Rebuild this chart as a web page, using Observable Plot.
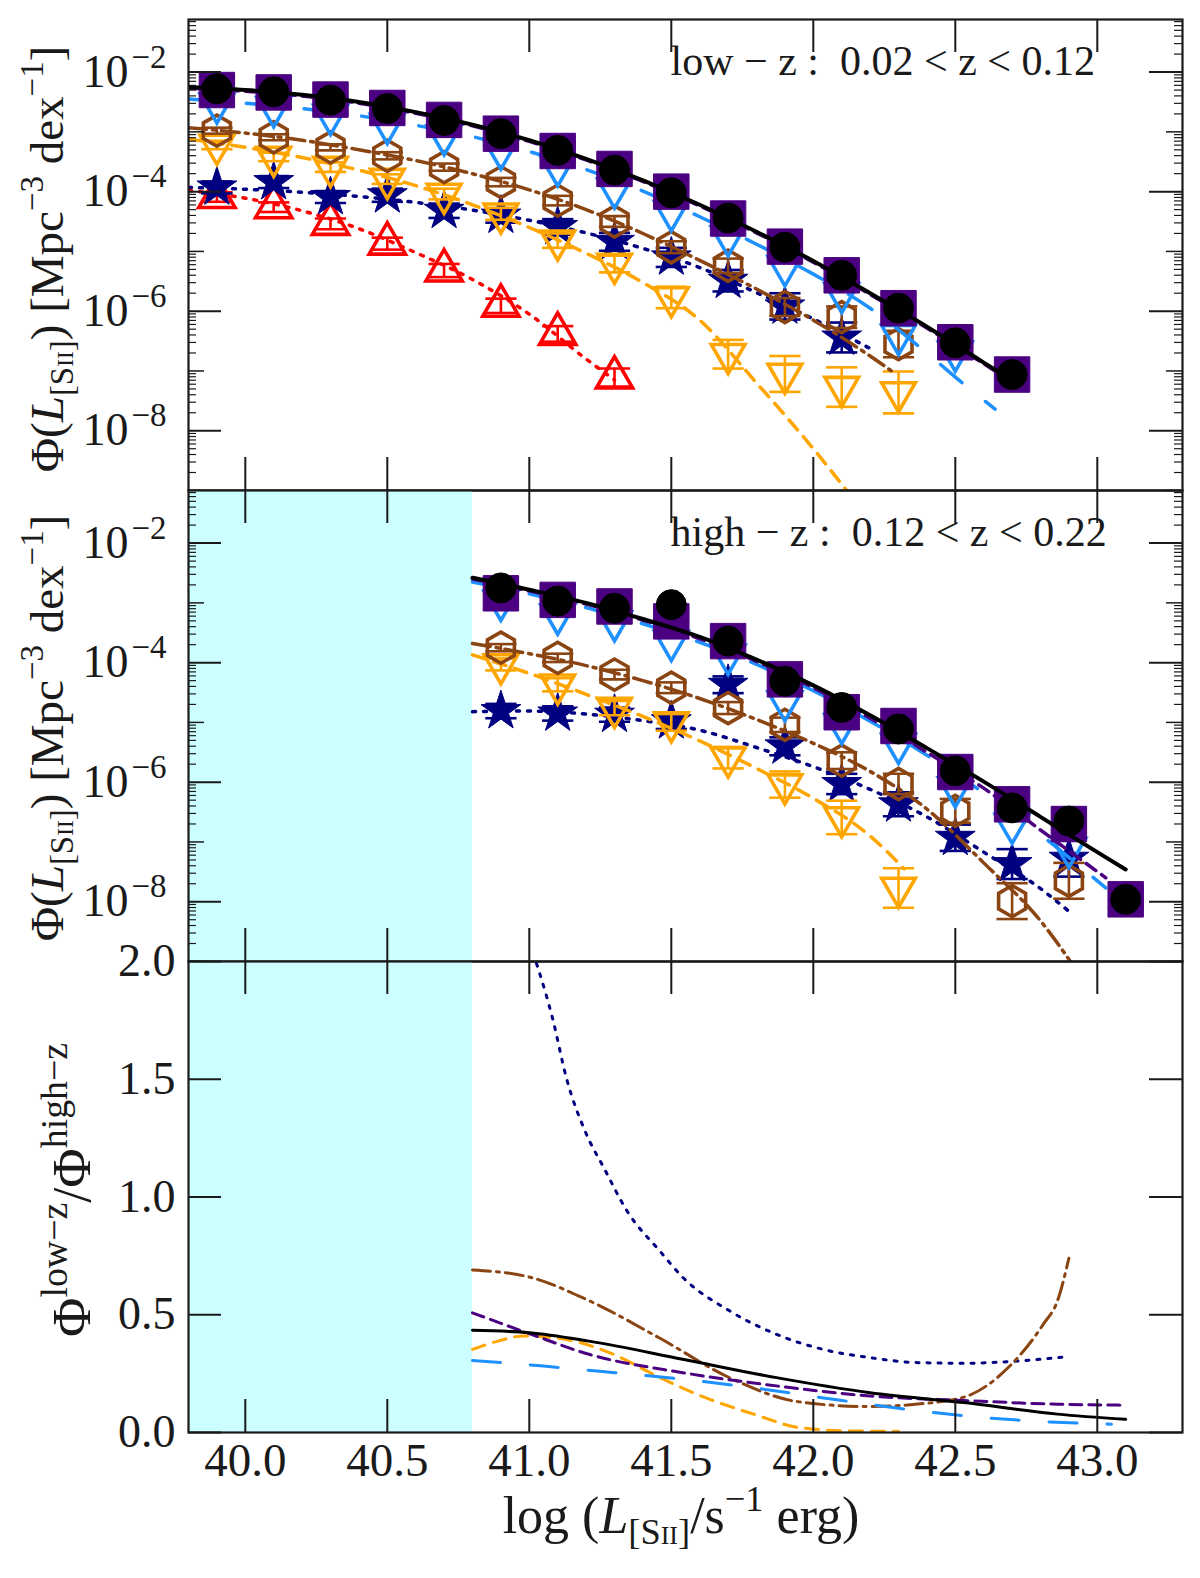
<!DOCTYPE html>
<html>
<head>
<meta charset="utf-8">
<script src="https://cdn.jsdelivr.net/npm/d3@7"></script>
<script src="https://cdn.jsdelivr.net/npm/@observablehq/plot@0.6"></script>
<style>
  body { margin: 0; background: white; }
  #chart svg { display: block; overflow: visible; }
</style>
</head>
<body>
<div id="chart"></div>
<script>
// axis settings
const xDomain = [39.8, 43.3];
const xTicks = [40.0, 40.5, 41.0, 41.5, 42.0, 42.5, 43.0];
const xTickLabels = ["40.0", "40.5", "41.0", "41.5", "42.0", "42.5", "43.0"];
const shadeEdge = 40.8;                 // completeness limit of the high-z sample
const phiDomain = [1e-9, 10 ** -1.12];
const phiTicks = [1e-2, 1e-4, 1e-6, 1e-8];
const phiTickExps = ["\u22122", "\u22124", "\u22126", "\u22128"];
const ratioTicks = [0, 0.5, 1, 1.5, 2];
const ratioTickLabels = ["0.0", "0.5", "1.0", "1.5", "2.0"];
const panelNotes = ["low \u2212 z :  0.02 < z < 0.12", "high \u2212 z :  0.12 < z < 0.22"];

// binned points (log10 Phi), low-z panel
const lowX      = [39.9, 40.1, 40.3, 40.5, 40.7, 40.9, 41.1, 41.3, 41.5, 41.7, 41.9, 42.1, 42.3, 42.5, 42.7];
const lowAll    = [-2.28, -2.33, -2.47, -2.61, -2.81, -3.03, -3.31, -3.64, -4.02, -4.44, -4.93, -5.40, -5.95, -6.53, -7.06];
const lowPurple = [-2.30, -2.34, -2.46, -2.60, -2.80, -3.03, -3.32, -3.62, -4.00, -4.45, -4.92, -5.40, -5.95, -6.52, -7.06];
const lowBlue   = [-2.53, -2.59, -2.72, -2.87, -3.06, -3.30, -3.58, -3.95, -4.33, -4.75, -5.25, -5.70, -6.40, -6.68, null];
const lowBrown  = [-2.98, -3.09, -3.26, -3.40, -3.59, -3.84, -4.15, -4.50, -4.93, -5.24, -5.93, -6.10, -6.55, null, null];
const lowOrange = [-3.22, -3.42, -3.59, -3.79, -4.04, -4.37, -4.82, -5.21, -5.77, -6.72, -7.05, -7.27, -7.36, null, null];
const lowNavy   = [-3.93, -3.84, -4.09, -4.06, -4.32, -4.40, -4.59, -4.84, -5.10, -5.49, -5.92, -6.44, null, null, null];
const lowRed    = [-4.09, -4.26, -4.54, -4.87, -5.32, -5.91, -6.38, -7.11, null, null, null, null, null, null, null];

// error half-lengths (dex), low-z panel
const lowBrownErr  = [0.05, 0.05, 0.05, 0.06, 0.06, 0.07, 0.08, 0.09, 0.10, 0.12, 0.15, 0.18, 0.22];
const lowOrangeErr = [0.07, 0.07, 0.08, 0.08, 0.09, 0.10, 0.12, 0.14, 0.18, 0.24, 0.30, 0.33, 0.35];
const lowNavyErr   = [0.10, 0.10, 0.10, 0.11, 0.12, 0.12, 0.13, 0.15, 0.16, 0.18, 0.22, 0.25];
const lowRedErr    = [0.08, 0.08, 0.09, 0.10, 0.11, 0.12, 0.13, 0.15];

// binned points (log10 Phi), high-z panel
const highX      = [40.9, 41.1, 41.3, 41.5, 41.7, 41.9, 42.1, 42.3, 42.5, 42.7, 42.9, 43.1];
const highAll    = [-2.75, -2.97, -3.09, -3.03, -3.64, -4.31, -4.75, -5.11, -5.81, -6.43, -6.65, -7.96];
const highPurple = [-2.84, -2.95, -3.06, -3.31, -3.64, -4.28, -4.83, -5.06, -5.83, -6.37, -6.70, -7.96];
const highBlue   = [-2.97, -3.20, -3.31, -3.64, -3.87, -4.65, -5.03, -5.36, -6.09, -6.70, -7.10, null];
const highBrown  = [-3.75, -3.92, -4.20, -4.42, -4.76, -5.04, -5.64, -6.03, -6.48, -7.99, -7.65, null];
const highOrange = [-4.03, -4.37, -4.76, -5.00, -5.59, -6.04, -6.59, -7.77, null, null, null, null];
const highNavy   = [-4.81, -4.85, -4.87, -4.98, -4.37, -5.40, -6.03, -6.37, -6.93, -7.37, -7.28, null];

// error half-lengths (dex), high-z panel
const highBrownErr  = [0.06, 0.07, 0.08, 0.09, 0.10, 0.12, 0.14, 0.17, 0.20, 0.30, 0.30];
const highOrangeErr = [0.10, 0.11, 0.12, 0.14, 0.18, 0.22, 0.28, 0.33];
const highNavyErr   = [0.12, 0.12, 0.12, 0.13, 0.14, 0.15, 0.17, 0.20, 0.22, 0.25, 0.30];

// fitted curves [log L, log10 Phi], low-z
const lowFitAll    = [[39.8,-2.25],[40.0,-2.30],[40.2,-2.38],[40.4,-2.50],[40.6,-2.67],[40.8,-2.88],[41.0,-3.14],[41.2,-3.45],[41.4,-3.81],[41.6,-4.22],[41.8,-4.67],[42.0,-5.16],[42.2,-5.70],[42.4,-6.26],[42.6,-6.86],[42.68,-7.1]];
const lowFitPurple = [[39.8,-2.27],[40.0,-2.32],[40.2,-2.40],[40.4,-2.52],[40.6,-2.69],[40.8,-2.90],[41.0,-3.16],[41.2,-3.47],[41.4,-3.83],[41.6,-4.24],[41.8,-4.69],[42.0,-5.18],[42.2,-5.72],[42.4,-6.28],[42.6,-6.88],[42.68,-7.12]];
const lowFitBlue   = [[39.8,-2.45],[40.0,-2.52],[40.2,-2.61],[40.4,-2.73],[40.6,-2.89],[40.8,-3.08],[41.0,-3.33],[41.2,-3.63],[41.4,-3.99],[41.6,-4.42],[41.8,-4.88],[42.0,-5.38],[42.2,-5.95],[42.4,-6.70],[42.53,-7.22],[42.64,-7.64]];
const lowFitBrown  = [[39.8,-2.93],[40.0,-3.02],[40.2,-3.14],[40.4,-3.30],[40.6,-3.48],[40.8,-3.70],[41.0,-3.97],[41.2,-4.30],[41.4,-4.70],[41.6,-5.15],[41.8,-5.63],[42.0,-6.15],[42.2,-6.75],[42.29,-7.05]];
const lowFitOrange = [[39.8,-3.12],[40.0,-3.26],[40.2,-3.43],[40.4,-3.64],[40.6,-3.90],[40.8,-4.22],[41.0,-4.60],[41.2,-5.03],[41.4,-5.52],[41.6,-6.15],[41.8,-7.20],[42.0,-8.30],[42.15,-9.20]];
const lowFitNavy   = [[39.8,-3.93],[40.0,-3.96],[40.2,-4.01],[40.4,-4.08],[40.6,-4.18],[40.8,-4.31],[41.0,-4.48],[41.2,-4.69],[41.4,-4.95],[41.6,-5.27],[41.8,-5.69],[42.0,-6.13],[42.21,-6.65]];
const lowFitRed    = [[39.8,-3.98],[40.0,-4.11],[40.2,-4.32],[40.4,-4.62],[40.6,-5.02],[40.8,-5.47],[41.0,-6.05],[41.2,-6.80],[41.3,-7.15]];

// fitted curves [log L, log10 Phi], high-z
const highFitAll    = [[40.8,-2.58],[41.0,-2.78],[41.2,-3.00],[41.4,-3.27],[41.6,-3.57],[41.8,-3.95],[42.0,-4.38],[42.2,-4.88],[42.4,-5.43],[42.6,-5.99],[42.8,-6.58],[43.0,-7.17],[43.1,-7.46]];
const highFitPurple = [[40.8,-2.60],[41.0,-2.80],[41.2,-3.02],[41.4,-3.29],[41.6,-3.60],[41.8,-3.98],[42.0,-4.42],[42.2,-4.93],[42.4,-5.50],[42.6,-6.10],[42.8,-6.80],[43.03,-7.60]];
const highFitBlue   = [[40.8,-2.65],[41.0,-2.85],[41.2,-3.08],[41.4,-3.35],[41.6,-3.66],[41.8,-4.03],[42.0,-4.47],[42.2,-4.98],[42.4,-5.55],[42.6,-6.18],[42.8,-6.88],[43.03,-7.77]];
const highFitBrown  = [[40.8,-3.68],[41.0,-3.85],[41.2,-4.05],[41.4,-4.30],[41.6,-4.60],[41.8,-4.95],[42.0,-5.35],[42.2,-5.82],[42.4,-6.45],[42.6,-7.35],[42.8,-8.32],[42.92,-9.10]];
const highFitOrange = [[40.8,-3.87],[41.0,-4.18],[41.2,-4.53],[41.4,-4.90],[41.6,-5.31],[41.8,-5.77],[42.0,-6.27],[42.2,-6.90],[42.32,-7.45]];
const highFitNavy   = [[40.8,-4.82],[41.0,-4.81],[41.2,-4.86],[41.4,-4.97],[41.6,-5.13],[41.8,-5.42],[42.0,-5.74],[42.2,-6.12],[42.4,-6.58],[42.6,-7.17],[42.8,-7.78],[42.9,-8.16]];

// ratio of the fits, Phi(low-z) / Phi(high-z)
const ratioAll    = [[40.8,0.434],[41.0,0.424],[41.21,0.388],[41.54,0.311],[41.87,0.233],[42.2,0.169],[42.53,0.127],[42.86,0.078],[43.1,0.056]];
const ratioPurple = [[40.8,0.508],[41.0,0.420],[41.21,0.332],[41.54,0.254],[41.87,0.198],[42.2,0.155],[42.53,0.136],[42.86,0.120],[43.1,0.116]];
const ratioBlue   = [[40.8,0.306],[41.05,0.282],[41.3,0.254],[41.54,0.226],[41.79,0.19],[42.03,0.148],[42.28,0.106],[42.53,0.071],[42.77,0.049],[43.05,0.035]];
const ratioBrown  = [[40.8,0.69],[41.0,0.66],[41.21,0.56],[41.46,0.40],[41.71,0.23],[41.95,0.13],[42.2,0.11],[42.36,0.12],[42.53,0.15],[42.69,0.28],[42.81,0.46],[42.86,0.56],[42.9,0.74]];
const ratioOrange = [[40.8,0.353],[40.89,0.388],[40.98,0.41],[41.13,0.395],[41.3,0.33],[41.46,0.233],[41.62,0.148],[41.79,0.078],[41.95,0.021],[42.12,0.007],[42.3,0.005]];
const ratioNavy   = [[41.0,2.08],[41.033,1.963],[41.082,1.758],[41.131,1.504],[41.197,1.278],[41.263,1.123],[41.345,0.939],[41.46,0.77],[41.542,0.657],[41.706,0.516],[41.87,0.417],[42.034,0.353],[42.199,0.318],[42.363,0.297],[42.527,0.294],[42.691,0.301],[42.888,0.321]];

// look of each sample (drawing order = bottom to top)
const FONT = "Liberation Serif, Times New Roman, serif";
const ink = "#1a1a1a";
const look = {
  red:    {color: "#ff0000", symbol: "triangle", r: 13.5, fill: "none", rot: 0,   dash: "3,8",      sw: 3.5},
  navy:   {color: "#000080", symbol: "star",     r: 12.5, fill: "solid", rot: 0,  dash: "3,8",      sw: 3.5},
  orange: {color: "#ffa500", symbol: "triangle", r: 12.5, fill: "none", rot: 180, dash: "13,9",     sw: 3.5},
  brown:  {color: "#8b4513", symbol: "hexagon",  r: 13.5, fill: "none", rot: 0,   dash: "18,6,3,6", sw: 3.5},
  blue:   {color: "#1e90ff", symbol: "triangle", r: 12.5, fill: "none", rot: 180, dash: "28,30",    sw: 3.5},
  purple: {color: "#4b0082", symbol: "square",   r: 20,   fill: "solid", rot: 0,  dash: "12,7",     sw: 3.5},
  all:    {color: "#000000", symbol: "circle",   r: 15,   fill: "solid", rot: 0,  dash: null,       sw: 4}
};
const order = ["red", "navy", "orange", "brown", "blue", "purple", "all"];

const lowPts   = {red: lowRed, navy: lowNavy, orange: lowOrange, brown: lowBrown, blue: lowBlue, purple: lowPurple, all: lowAll};
const highPts  = {navy: highNavy, orange: highOrange, brown: highBrown, blue: highBlue, purple: highPurple, all: highAll};
const lowErrs  = {red: lowRedErr, navy: lowNavyErr, orange: lowOrangeErr, brown: lowBrownErr};
const highErrs = {navy: highNavyErr, orange: highOrangeErr, brown: highBrownErr};
const lowFits  = {red: lowFitRed, navy: lowFitNavy, orange: lowFitOrange, brown: lowFitBrown, blue: lowFitBlue, purple: lowFitPurple, all: lowFitAll};
const highFits = {navy: highFitNavy, orange: highFitOrange, brown: highFitBrown, blue: highFitBlue, purple: highFitPurple, all: highFitAll};
const ratios   = {navy: ratioNavy, orange: ratioOrange, brown: ratioBrown, blue: ratioBlue, purple: ratioPurple, all: ratioAll};

// geometry
const W = 1200, ML = 188, MR = 18, FH = 471, FW = W - ML - MR;
const major = 33;
const capHalf = 0.055;

function tickMarks(yMajor, yMinorLong, yMinorShort) {
  const t = {stroke: ink, strokeWidth: 2};
  const m = [
    Plot.tickX(xTicks, {x: d => d, insetTop: FH - major, ...t}),
    Plot.tickX(xTicks, {x: d => d, insetBottom: FH - major, ...t}),
    Plot.tickY(yMajor, {y: d => d, insetRight: FW - major, ...t}),
    Plot.tickY(yMajor, {y: d => d, insetLeft: FW - major, ...t})
  ];
  if (yMinorLong) m.push(
    Plot.tickY(yMinorLong, {y: d => d, insetRight: FW - 16, stroke: ink, strokeWidth: 1.5}),
    Plot.tickY(yMinorLong, {y: d => d, insetLeft: FW - 16, stroke: ink, strokeWidth: 1.5}),
    Plot.tickY(yMinorShort, {y: d => d, insetRight: FW - 8, stroke: ink, strokeWidth: 1.2}),
    Plot.tickY(yMinorShort, {y: d => d, insetLeft: FW - 8, stroke: ink, strokeWidth: 1.2})
  );
  return m;
}

const inDomain = v => v >= phiDomain[0] && v <= phiDomain[1];
const minorLong = [1e-9, 1e-7, 1e-5, 1e-3].filter(inDomain);
const minorShort = d3.range(-9, -1).flatMap(e => d3.range(2, 10).map(k => k * 10 ** e)).filter(inDomain);

function seriesMarks(pts, xs, errs, fits) {
  const marks = [];
  for (const k of order) {
    const s = look[k];
    if (pts[k]) {
      const rows = xs.map((x, i) => ({x, v: pts[k][i], e: errs[k] ? errs[k][i] : null})).filter(d => d.v != null);
      const er = rows.filter(d => d.e != null);
      const lo = d => 10 ** (d.v - d.e), hi = d => 10 ** (d.v + d.e);
      const eo = {stroke: s.color, strokeWidth: 2.6};
      if (er.length) marks.push(
        Plot.link(er, {x1: "x", x2: "x", y1: lo, y2: hi, ...eo}),
        Plot.link(er, {x1: d => d.x - capHalf, x2: d => d.x + capHalf, y1: lo, y2: lo, ...eo}),
        Plot.link(er, {x1: d => d.x - capHalf, x2: d => d.x + capHalf, y1: hi, y2: hi, ...eo})
      );
      marks.push(Plot.dot(rows, {
        x: "x", y: d => 10 ** d.v, symbol: s.symbol, r: s.r, rotate: s.rot,
        fill: s.fill === "solid" ? s.color : "none", stroke: s.color,
        strokeWidth: s.fill === "solid" ? 1 : 3.6
      }));
    }
    if (fits[k]) {
      marks.push(Plot.line(fits[k], {
        x: d => d[0], y: d => 10 ** d[1], stroke: s.color, strokeWidth: s.sw,
        strokeDasharray: s.dash, curve: "monotone-x", clip: true
      }));
    }
  }
  return marks;
}

function phiLabels() {
  return [
    Plot.text(phiTicks, {y: d => d, frameAnchor: "left", text: () => "10", textAnchor: "end",
      dx: -60, fontSize: 46, fontFamily: FONT, fill: ink}),
    Plot.text(phiTicks, {y: d => d, frameAnchor: "left", text: (d, i) => phiTickExps[i], textAnchor: "start",
      dx: -57, dy: -15, fontSize: 33, fontFamily: FONT, fill: ink})
  ];
}

function noteMark(i) {
  return Plot.text([panelNotes[i]], {text: d => d, frameAnchor: "top-left", dx: 482, dy: 42,
    textAnchor: "start", lineAnchor: "middle", fontSize: 42, fontFamily: FONT, fill: ink});
}

// math-style label with sub/superscripts, appended into a plot's svg
function mathLabel(svg, {x, y, rotate = -90, size, parts}) {
  const t = d3.select(svg).append("text")
    .attr("transform", `translate(${x},${y}) rotate(${rotate})`)
    .attr("text-anchor", "middle")
    .attr("font-family", FONT).attr("font-size", size).attr("fill", ink);
  let shift = 0;
  for (const [str, kind] of parts) {
    const target = kind === "sup" ? -0.42 * size : (kind === "sub" || kind === "subs") ? 0.22 * size : 0;
    const fs = kind === "sup" || kind === "sub" ? size * 0.7 : kind === "subs" ? size * 0.5 : size;
    t.append("tspan").attr("dy", target - shift).attr("font-size", fs)
      .attr("font-style", kind === "it" ? "italic" : null).text(str);
    shift = target;
  }
}
const phiLabelParts = [["\u03a6(", ""], ["L", "it"], ["[S", "sub"], ["II", "subs"], ["]", "sub"],
  [")\u00a0[Mpc", ""], ["\u22123", "sup"], ["\u00a0dex", ""], ["\u22121", "sup"], ["]", ""]];

const shade = Plot.rect([{x1: xDomain[0], x2: shadeEdge}], {x1: "x1", x2: "x2", fill: "#ccffff"});

// top panel: low-z
const topPlot = Plot.plot({
  width: W, height: 19 + FH, marginLeft: ML, marginRight: MR, marginTop: 19, marginBottom: 0,
  style: {overflow: "visible", background: "transparent"},
  x: {domain: xDomain, axis: null},
  y: {type: "log", domain: phiDomain, axis: null},
  marks: [
    ...seriesMarks(lowPts, lowX, lowErrs, lowFits),
    ...tickMarks(phiTicks, minorLong, minorShort),
    ...phiLabels(),
    noteMark(0),
    Plot.frame({stroke: ink, strokeWidth: 2.2})
  ]
});
mathLabel(topPlot, {x: 63, y: 259, size: 47, parts: phiLabelParts});

// middle panel: high-z
const midPlot = Plot.plot({
  width: W, height: FH, marginLeft: ML, marginRight: MR, marginTop: 0, marginBottom: 0,
  style: {overflow: "visible", background: "transparent"},
  x: {domain: xDomain, axis: null},
  y: {type: "log", domain: phiDomain, axis: null},
  marks: [
    shade,
    ...seriesMarks(highPts, highX, highErrs, highFits),
    ...tickMarks(phiTicks, minorLong, minorShort),
    ...phiLabels(),
    noteMark(1),
    Plot.frame({stroke: ink, strokeWidth: 2.2})
  ]
});
mathLabel(midPlot, {x: 63, y: 238, size: 47, parts: phiLabelParts});

// bottom panel: ratio
const ratioMarks = order.filter(k => ratios[k]).map(k => Plot.line(ratios[k], {
  x: d => d[0], y: d => d[1], stroke: look[k].color, strokeWidth: 3,
  strokeDasharray: look[k].dash, curve: "monotone-x", clip: true
}));
const botPlot = Plot.plot({
  width: W, height: FH + 146, marginLeft: ML, marginRight: MR, marginTop: 0, marginBottom: 146,
  style: {overflow: "visible", background: "transparent"},
  x: {domain: xDomain, axis: null},
  y: {domain: [0, 2], axis: null},
  marks: [
    shade,
    ...ratioMarks,
    ...tickMarks(ratioTicks),
    Plot.text(ratioTicks, {y: d => d, frameAnchor: "left", text: (d, i) => ratioTickLabels[i],
      textAnchor: "end", dx: -13, fontSize: 46, fontFamily: FONT, fill: ink}),
    Plot.text(xTicks, {x: d => d, frameAnchor: "bottom", text: (d, i) => xTickLabels[i],
      lineAnchor: "top", dy: 10, fontSize: 47, fontFamily: FONT, fill: ink}),
    Plot.frame({stroke: ink, strokeWidth: 2.2})
  ]
});
mathLabel(botPlot, {x: 90, y: 229, size: 54, parts: [["\u03a6", ""], ["low\u2212z", "sup"], ["/\u03a6", ""], ["high\u2212z", "sup"]]});
mathLabel(botPlot, {x: 681, y: 572, rotate: 0, size: 52, parts: [["log\u00a0(", ""], ["L", "it"], ["[S", "sub"], ["II", "subs"], ["]", "sub"],
  ["/s", ""], ["\u22121", "sup"], ["\u00a0erg)", ""]]});

const chart = document.getElementById("chart");
chart.append(topPlot, midPlot, botPlot);
</script>
</body>
</html>
